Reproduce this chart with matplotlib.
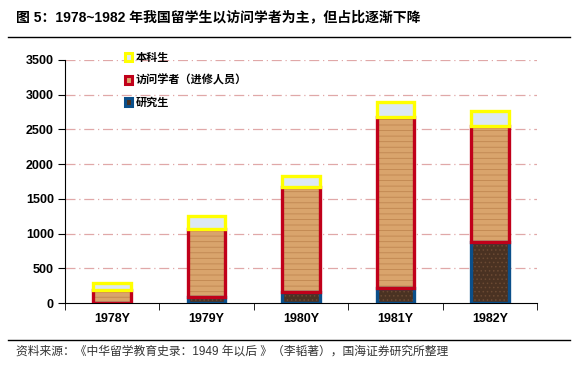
import matplotlib.pyplot as plt
import numpy as np

plt.rcParams['font.family'] = ['Liberation Sans', 'Noto Sans CJK SC', 'DejaVu Sans']
plt.rcParams['hatch.linewidth'] = 0.6

years = ['1978Y', '1979Y', '1980Y', '1981Y', '1982Y']
graduate = [0, 90, 160, 220, 880]        # 研究生
visiting = [190, 980, 1510, 2460, 1670]  # 访问学者（进修人员）
undergrad = [100, 180, 165, 220, 220]    # 本科生

fig = plt.figure(figsize=(5.78, 3.70), dpi=100)
ax = fig.add_axes([65/578, 67/370, 472/578, 243/370])

x = np.arange(len(years))
w = 0.4
bottom2 = np.array(graduate)
bottom3 = bottom2 + np.array(visiting)

# faint grain on the textured segments
ax.bar(x, graduate, w, color='#4a3222', hatch='....', edgecolor='#6b4a33', linewidth=0, zorder=2)
ax.bar(x, visiting, w, bottom=bottom2, color='#d9a46c', hatch='---', edgecolor='#c08650',
       linewidth=0, zorder=2)

b1 = ax.bar(x, graduate, w, fill=False, edgecolor='#0b4f8a', linewidth=2.4,
            label='研究生', zorder=3)
b2 = ax.bar(x, visiting, w, bottom=bottom2, fill=False, edgecolor='#c0001a',
            linewidth=2.4, label='访问学者（进修人员）', zorder=3)
b3 = ax.bar(x, undergrad, w, bottom=bottom3, color='#dce8f6', edgecolor='#ffff00',
            linewidth=2.4, label='本科生', zorder=3)

ax.set_ylim(0, 3500)
ax.set_xlim(-0.5, 4.5)
ax.set_yticks(np.arange(0, 3501, 500))
ax.set_yticklabels([str(v) for v in range(0, 3501, 500)], fontweight='bold', fontsize=9)
ax.set_xticks(x)
ax.set_xticklabels(years, fontweight='bold', fontsize=9)
ax.set_xticks(np.arange(-0.5, 5, 1), minor=True)
ax.tick_params(axis='x', which='major', length=0, pad=7)
ax.tick_params(axis='x', which='minor', length=5, direction='out')
ax.tick_params(axis='y', length=5, direction='out', pad=3)

for v in range(500, 3501, 500):
    ax.axhline(v, color='#e0a8a8', linestyle=(0, (8, 3, 1, 3)), linewidth=0.9, zorder=1)

ax.spines['top'].set_visible(False)
ax.spines['right'].set_visible(False)

from matplotlib.patches import Patch
handles = [Patch(facecolor='#dce8f6', edgecolor='#ffff00', linewidth=2.2),
           Patch(facecolor='#d9a46c', edgecolor='#c0001a', linewidth=2.2),
           Patch(facecolor='#4a3222', edgecolor='#0b4f8a', linewidth=2.2)]
labels = ['本科生', '访问学者（进修人员）', '研究生']
ax.legend(handles, labels, loc='upper left', bbox_to_anchor=(0.105, 1.07), frameon=False,
          handlelength=0.7, handleheight=0.7, handletextpad=0.3, labelspacing=1.05,
          prop={'weight': 'bold', 'size': 8})

# title and source
fig.text(16/578, 1 - 17/370, '图 5：1978~1982 年我国留学生以访问学者为主，但占比逐渐下降',
         fontsize=10, fontweight='bold', va='center', ha='left')
fig.add_artist(plt.Line2D([8/578, 570/578], [1 - 37/370, 1 - 37/370], color='black', linewidth=1))
fig.add_artist(plt.Line2D([8/578, 570/578], [1 - 340/370, 1 - 340/370], color='black', linewidth=1))
fig.text(16/578, 1 - 352/370, '资料来源：《中华留学教育史录：1949 年以后 》（李韬著），国海证券研究所整理',
         fontsize=8.5, color='#333333', va='center', ha='left')

fig.savefig('out.png', dpi=100)
